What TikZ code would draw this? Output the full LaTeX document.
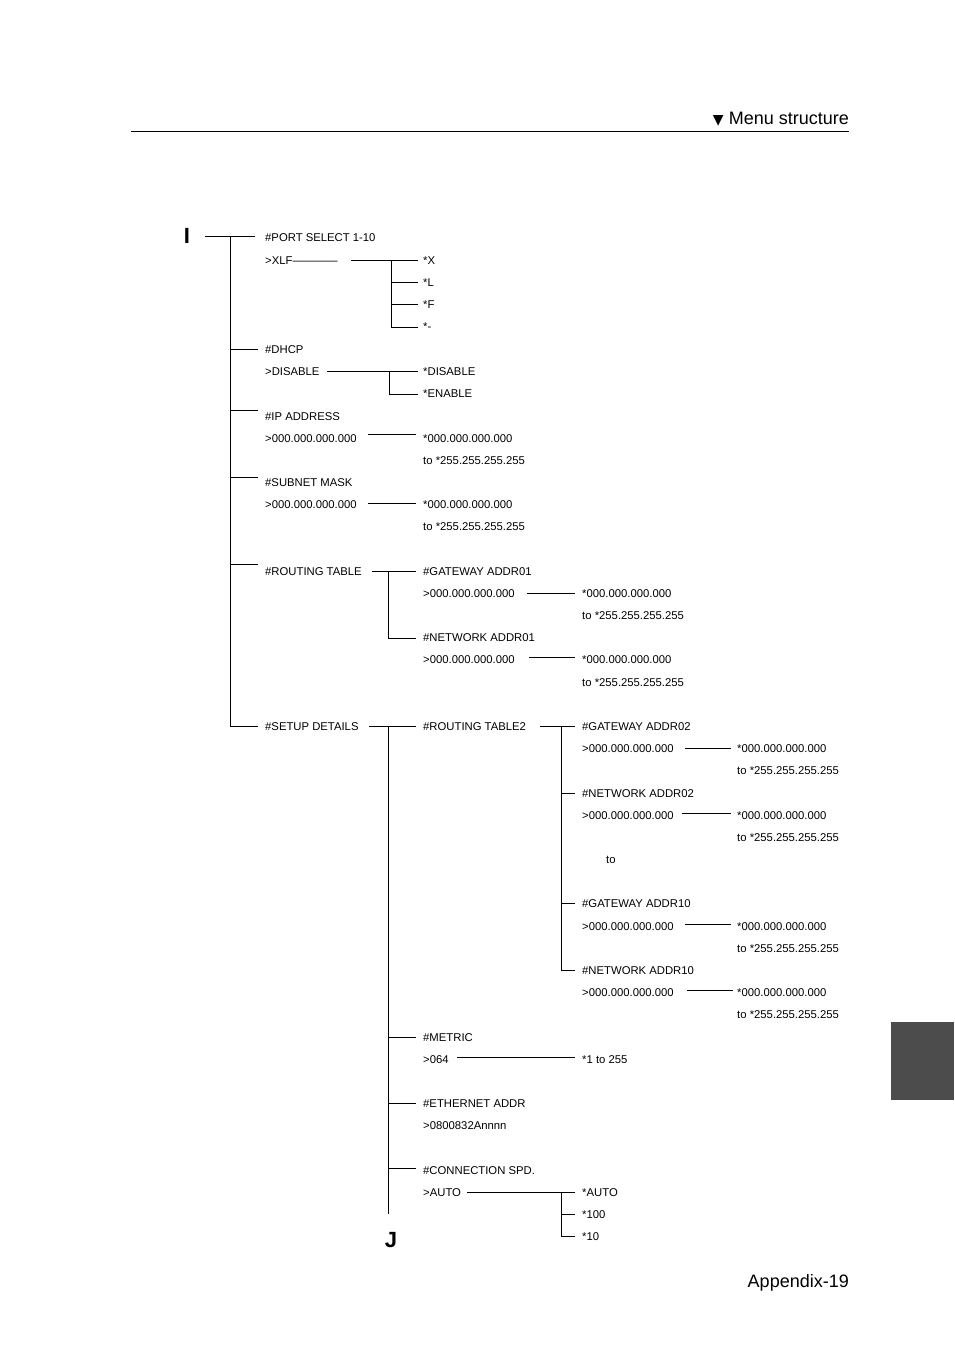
\documentclass[tikz,border=0pt]{standalone}
\usepackage{fontspec}
\setmainfont{Liberation Sans}
\newfontfamily\symfont{DejaVu Sans}
\tikzset{
  lbl/.style={anchor=base west,inner sep=0pt,font=\fontsize{11.3}{12}\selectfont},
  big/.style={inner sep=0pt,font=\fontsize{18}{20}\selectfont},
  tree/.style={line width=0.6pt}
}
\begin{document}
\begin{tikzpicture}[x=1pt,y=-1pt]
\useasboundingbox (0,0) rectangle (954,1348);

% Kopf und Fuss
\draw[line width=0.7pt] (131,131) -- (849,131);
\node[big,anchor=base east] (head) at (849,125) {{\symfont\fontsize{14}{16}\selectfont ▼} Menu structure};
\node[big,anchor=base east] (foot) at (849,1287) {Appendix-19};
\fill[black!70] (891,1022) rectangle (954,1100);
\node[inner sep=0pt,font=\bfseries\fontsize{22}{24}\selectfont] (markI) at (187,236) {I};
\node[inner sep=0pt,font=\bfseries\fontsize{22}{24}\selectfont] (markJ) at (391,1240) {J};

% Texte
\foreach \x/\y/\t in {265/242/\#PORT SELECT 1-10, 265/264/>XLF------------,
  423/264/*X, 423/286/*L, 423/308/*F, 423/330/*-,
  265/353/\#DHCP, 265/375/>DISABLE, 423/375/*DISABLE, 423/397/*ENABLE,
  265/420/\#IP ADDRESS, 265/442/>000.000.000.000, 423/442/*000.000.000.000, 423/464/to *255.255.255.255,
  265/486/\#SUBNET MASK, 265/508/>000.000.000.000, 423/508/*000.000.000.000, 423/530/to *255.255.255.255,
  265/575/\#ROUTING TABLE, 423/575/\#GATEWAY ADDR01, 423/597/>000.000.000.000,
  582/597/*000.000.000.000, 582/619/to *255.255.255.255,
  423/641/\#NETWORK ADDR01, 423/663/>000.000.000.000,
  582/663/*000.000.000.000, 582/686/to *255.255.255.255,
  265/730/\#SETUP DETAILS, 423/730/\#ROUTING TABLE2,
  582/730/\#GATEWAY ADDR02, 582/752/>000.000.000.000, 737/752/*000.000.000.000, 737/774/to *255.255.255.255,
  582/797/\#NETWORK ADDR02, 582/819/>000.000.000.000, 737/819/*000.000.000.000, 737/841/to *255.255.255.255,
  606/863/to,
  582/907/\#GATEWAY ADDR10, 582/930/>000.000.000.000, 737/930/*000.000.000.000, 737/952/to *255.255.255.255,
  582/974/\#NETWORK ADDR10, 582/996/>000.000.000.000, 737/996/*000.000.000.000, 737/1018/to *255.255.255.255,
  423/1041/\#METRIC, 423/1063/>064, 582/1063/*1 to 255,
  423/1107/\#ETHERNET ADDR, 423/1129/>0800832Annnn,
  423/1174/\#CONNECTION SPD., 423/1196/>AUTO, 582/1196/*AUTO, 582/1218/*100, 582/1240/*10}
  \node[lbl] at (\x,\y) {\t};

% Hauptbaum
\draw[tree] (205,236) -- (255,236);
\draw[tree] (230,236) -- (230,726) -- (258,726);
\foreach \y in {349,410,477,564} \draw[tree] (230,\y) -- (258,\y);

% XLF
\draw[tree] (351,260) -- (418,260);
\draw[tree] (391,260) -- (391,327) -- (418,327);
\foreach \y in {282,304} \draw[tree] (391,\y) -- (418,\y);

% DHCP
\draw[tree] (327,371) -- (418,371);
\draw[tree] (389,371) -- (389,394) -- (418,394);

% Adressen
\draw[tree] (368,434) -- (416,434);
\draw[tree] (368,503) -- (416,503);

% Routing table
\draw[tree] (372,571) -- (416,571);
\draw[tree] (388,571) -- (388,638) -- (416,638);
\draw[tree] (527,593) -- (575,593);
\draw[tree] (529,657) -- (575,657);

% Setup details
\draw[tree] (369,726) -- (416,726);
\draw[tree] (388,726) -- (388,1214);
\foreach \y in {1037,1103,1168} \draw[tree] (388,\y) -- (416,\y);
\draw[tree] (540,726) -- (575,726);
\draw[tree] (561,726) -- (561,970) -- (575,970);
\foreach \y in {793,903} \draw[tree] (561,\y) -- (575,\y);
\draw[tree] (685,748) -- (731,748);
\draw[tree] (682,813) -- (731,813);
\draw[tree] (685,924) -- (731,924);
\draw[tree] (687,990) -- (733,990);
\draw[tree] (457,1057) -- (575,1057);
\draw[tree] (467,1192) -- (575,1192);
\draw[tree] (561,1192) -- (561,1236) -- (575,1236);
\draw[tree] (561,1214) -- (575,1214);
\end{tikzpicture}
\end{document}
